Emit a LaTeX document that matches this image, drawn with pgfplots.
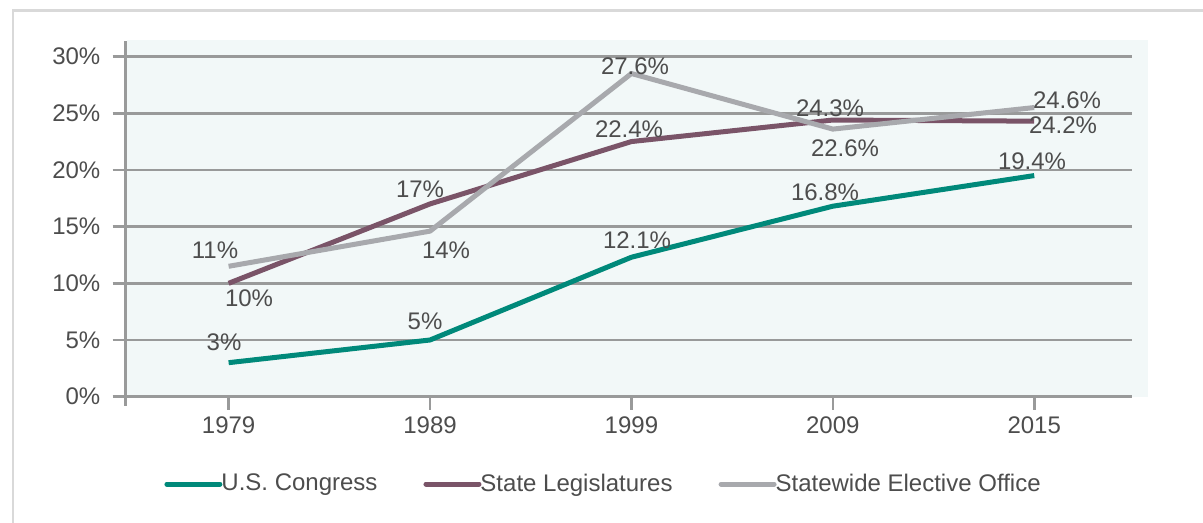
\documentclass[border=0pt]{standalone}
\usepackage{fontspec}
\setmainfont{Liberation Sans}
\usepackage{pgfplots}
\pgfplotsset{compat=1.18}
\definecolor{teal1}{HTML}{00897A}
\definecolor{plum}{HTML}{7A5468}
\definecolor{lgrey}{HTML}{A8A9AD}
\definecolor{gridc}{HTML}{999A9A}
\definecolor{txt}{HTML}{4D4D4D}
\definecolor{bg}{HTML}{F2F8F8}
\definecolor{framec}{HTML}{D9D9D9}
\begin{document}
\begin{tikzpicture}[font=\fontsize{12pt}{14pt}\selectfont,
  lbl/.style={text=txt, inner sep=0pt, anchor=center}]
\useasboundingbox (0,0) rectangle (601.5pt,261.5pt);
\fill[white] (0,0) rectangle (601.5pt,261.5pt);
\draw[framec, line width=1.2pt] (6.5pt,-1pt) -- (6.5pt,256.25pt) -- (603pt,256.25pt);
\fill[bg] (63.35pt,63.15pt) rectangle (573.85pt,241.5pt);
\begin{axis}[
  scale only axis, width=503.3pt, height=177.85pt,
  at={(62.85pt,63.15pt)}, anchor=south west,
  xmin=-0.511, xmax=4.487, ymin=0, ymax=31.37,
  axis x line=bottom, axis y line=left,
  axis line style={-, draw=gridc, line width=1.3pt},
  xtick={0,1,2,3,4}, xticklabels={1979,1989,1999,2009,2015},
  ytick={0,5,10,15,20,25,30}, yticklabels={0\%,5\%,10\%,15\%,20\%,25\%,30\%},
  ymajorgrids, major grid style={draw=gridc, line width=1.3pt},
  tick align=outside, major tick length=6.5pt,
  tick style={draw=gridc, line width=1.3pt},
  ticklabel style={text=txt},
  xticklabel style={anchor=north, inner sep=0pt, yshift=-3.5pt},
  yticklabel style={anchor=east, inner sep=0pt, xshift=-6pt},
  clip=false,
  legend columns=-1,
  legend style={draw=none, fill=none, at={(0.4737,-0.2456)}, anchor=center,
    text=txt, nodes={inner sep=0pt},
    /tikz/every odd column/.append style={column sep=-0.5pt},
    /tikz/every even column/.append style={column sep=23pt}},
  legend image code/.code={\draw[#1, line cap=round] (0pt,0pt) -- (26.5pt,0pt);},
  every axis plot/.append style={line width=2.5pt, line join=round},
]
\draw[gridc, line width=1.3pt] (rel axis cs:0,0) -- ++(0pt,-4.5pt);
\addplot[teal1] coordinates {(0,3) (1,5) (2,12.3) (3,16.8) (4,19.5)};
\addlegendentry{U.S. Congress}
\addplot[plum] coordinates {(0,10) (1,17) (2,22.5) (3,24.4) (4,24.3)};
\addlegendentry{State Legislatures}
\addplot[lgrey] coordinates {(0,11.5) (1,14.6) (2,28.5) (3,23.6) (4,25.5)};
\addlegendentry{Statewide Elective Office}
% labels: U.S. Congress
\node[lbl, xshift=-2.3pt, yshift=10pt] at (axis cs:0,3) {3\%};
\node[lbl, xshift=-2.5pt, yshift=9.5pt] at (axis cs:1,5) {5\%};
\node[lbl, xshift=2.8pt, yshift=8.35pt] at (axis cs:2,12.3) {12.1\%};
\node[lbl, xshift=-3.9pt, yshift=7pt] at (axis cs:3,16.8) {16.8\%};
\node[lbl, xshift=-1.1pt, yshift=7pt] at (axis cs:4,19.5) {19.4\%};
% labels: State Legislatures
\node[lbl, xshift=10.2pt, yshift=-7.65pt] at (axis cs:0,10) {10\%};
\node[lbl, xshift=-5pt, yshift=7.5pt] at (axis cs:1,17) {17\%};
\node[lbl, xshift=-1.2pt, yshift=6.35pt] at (axis cs:2,22.5) {22.4\%};
\node[lbl, xshift=-1.4pt, yshift=6pt] at (axis cs:3,24.4) {24.3\%};
\node[lbl, xshift=14.4pt, yshift=-2pt] at (axis cs:4,24.3) {24.2\%};
% labels: Statewide Elective Office
\node[lbl, xshift=-6.8pt, yshift=8pt] at (axis cs:0,11.5) {11\%};
\node[lbl, xshift=8pt, yshift=-9.5pt] at (axis cs:1,14.6) {14\%};
\node[lbl, xshift=1.8pt, yshift=3.65pt] at (axis cs:2,28.5) {27.6\%};
\node[lbl, xshift=6.1pt, yshift=-9.35pt] at (axis cs:3,23.6) {22.6\%};
\node[lbl, xshift=16.4pt, yshift=3.65pt] at (axis cs:4,25.5) {24.6\%};
\end{axis}
\end{tikzpicture}
\end{document}
